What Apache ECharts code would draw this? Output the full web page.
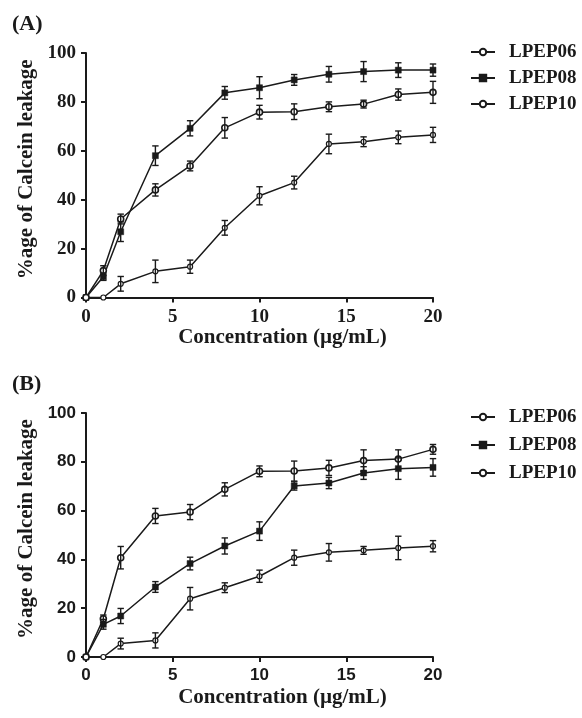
<!DOCTYPE html>
<html>
<head>
<meta charset="utf-8">
<script src="https://cdn.jsdelivr.net/npm/echarts@6/dist/echarts.min.js"></script>
<style>html,body{margin:0;padding:0;background:#fff;}#c{width:582px;height:718px;}</style>
</head>
<body>
<div id="c"></div>
<script>
const conc = [0, 1, 2, 4, 6, 8, 10, 12, 14, 16, 18, 20];
const seriesNames = ['LPEP06', 'LPEP08', 'LPEP10'];
const yTicks = [0, 20, 40, 60, 80, 100];
const xTicks = [0, 5, 10, 15, 20];

// Panel A
const a06 = [0, 0, 5.6, 10.7, 12.6, 28.5, 41.6, 47, 62.8, 63.7, 65.5, 66.5];
const a06e = [0, 0, 3, 4.6, 2.7, 3, 3.7, 2.6, 4, 2, 2.6, 3.1];
const a08 = [0, 8.5, 26.9, 58, 69.2, 83.7, 85.8, 89, 91.3, 92.4, 93, 93];
const a08e = [0, 1.5, 4, 4, 3.1, 2.6, 4.5, 2.2, 3.2, 4.1, 3, 2.5];
const a10 = [0, 11, 32.1, 44, 53.8, 69.4, 75.8, 76, 78, 79.1, 83, 83.9];
const a10e = [0, 2, 2, 2.5, 2, 4.2, 2.8, 3.2, 2, 1.6, 2.3, 4.5];

// Panel B
const b06 = [0, 0, 5.5, 6.8, 23.9, 28.4, 33.1, 40.7, 42.9, 43.7, 44.7, 45.4];
const b06e = [0, 0, 2.2, 3.1, 4.6, 2, 2.5, 3.1, 3.6, 1.6, 4.8, 2.3];
const b08 = [0, 13.4, 16.8, 28.7, 38.3, 45.5, 51.6, 70.1, 71.3, 75.4, 77.2, 77.7];
const b08e = [0, 2, 3.1, 2.2, 2.6, 3.3, 3.8, 1.7, 2.3, 2.6, 4.4, 3.6];
const b10 = [0, 15.7, 40.7, 57.8, 59.4, 68.7, 76.1, 76.2, 77.5, 80.5, 81.1, 85.1];
const b10e = [0, 1.5, 4.6, 3.1, 3.1, 2.7, 2.2, 4.1, 3.1, 4.4, 3.8, 2];

const INK = '#1a1a1a';
const SERIF = '"Liberation Serif", "Times New Roman", serif';
const SANS = '"Liberation Sans", Arial, sans-serif';

const symbolStyles = [
  { symbol: 'circle', symbolSize: 5, itemStyle: { color: '#fff', borderColor: INK, borderWidth: 1.2 } },
  { symbol: 'rect', symbolSize: 6, itemStyle: { color: INK, borderColor: INK, borderWidth: 0.5 } },
  { symbol: 'circle', symbolSize: 6, itemStyle: { color: '#fff', borderColor: INK, borderWidth: 1.6 } }
];

function lineSeries(name, vals, idx, panel) {
  const s = symbolStyles[idx];
  return {
    type: 'line', name: name, xAxisIndex: panel, yAxisIndex: panel,
    data: conc.map((c, i) => [c, vals[i]]),
    symbol: s.symbol, symbolSize: s.symbolSize, showAllSymbol: true,
    itemStyle: s.itemStyle,
    lineStyle: { color: INK, width: 1.5 },
    z: 3
  };
}

function errSeries(name, vals, errs, panel) {
  return {
    type: 'custom', name: name + ' err', xAxisIndex: panel, yAxisIndex: panel,
    data: conc.map((c, i) => [c, vals[i], errs[i]]),
    encode: { x: 0, y: 1 },
    clip: false, z: 4, silent: true,
    renderItem: function (params, api) {
      const x = api.value(0), y = api.value(1), e = api.value(2);
      if (!e) return { type: 'group', children: [] };
      const top = api.coord([x, y + e]);
      const bot = api.coord([x, y - e]);
      const w = 3.2;
      const st = { stroke: INK, lineWidth: 1.4 };
      return {
        type: 'group',
        children: [
          { type: 'line', shape: { x1: top[0], y1: top[1], x2: bot[0], y2: bot[1] }, style: st },
          { type: 'line', shape: { x1: top[0] - w, y1: top[1], x2: top[0] + w, y2: top[1] }, style: st },
          { type: 'line', shape: { x1: bot[0] - w, y1: bot[1], x2: bot[0] + w, y2: bot[1] }, style: st }
        ]
      };
    }
  };
}

function xAxis(panel, labelFont, labelSize) {
  return {
    type: 'value', gridIndex: panel, min: xTicks[0], max: xTicks[xTicks.length - 1], interval: 5,
    name: 'Concentration (µg/mL)', nameLocation: 'middle', nameGap: 30,
    nameTextStyle: { fontFamily: SERIF, fontWeight: 'bold', fontSize: 21, color: INK, padding: [0, 0, 0, 46] },
    axisLine: { show: true, onZero: false, lineStyle: { color: INK, width: 2 } },
    axisTick: { show: true, length: 5, lineStyle: { color: INK, width: 2 } },
    axisLabel: { fontFamily: labelFont, fontWeight: 'bold', fontSize: labelSize, color: INK, margin: 10 },
    splitLine: { show: false }
  };
}

function yAxis(panel, labelFont, labelSize) {
  return {
    type: 'value', gridIndex: panel, min: yTicks[0], max: yTicks[yTicks.length - 1], interval: 20,
    name: '%age of Calcein leakage', nameLocation: 'middle', nameGap: 49,
    nameTextStyle: { fontFamily: SERIF, fontWeight: 'bold', fontSize: 21, color: INK, padding: [0, 0, 0, 12] },
    axisLine: { show: true, onZero: false, lineStyle: { color: INK, width: 2 } },
    axisTick: { show: true, length: 5, lineStyle: { color: INK, width: 2 } },
    axisLabel: { fontFamily: labelFont, fontWeight: 'bold', fontSize: labelSize, color: INK, margin: 10 },
    splitLine: { show: false }
  };
}

function legend(top, gap) {
  return {
    orient: 'vertical', left: 465, top: top, data: seriesNames,
    itemWidth: 24, itemHeight: 8, itemGap: gap,
    textStyle: { fontFamily: SERIF, fontWeight: 'bold', fontSize: 19, color: INK, lineHeight: 20, padding: [0, 0, 0, 9] },
    selectedMode: false
  };
}

const chart = echarts.init(document.getElementById('c'), null, { renderer: 'canvas' });
chart.setOption({
  animation: false,
  backgroundColor: '#fff',
  graphic: [
    { type: 'text', left: 12, top: 13, style: { text: '(A)', font: 'bold 22px ' + SERIF, fill: INK } },
    { type: 'text', left: 12, top: 373, style: { text: '(B)', font: 'bold 22px ' + SERIF, fill: INK } }
  ],
  legend: [legend(37, 6), legend(402, 8)],
  grid: [
    { left: 86, top: 53, width: 347, height: 244.5 },
    { left: 86, top: 413, width: 347, height: 244 }
  ],
  xAxis: [xAxis(0, SERIF, 19), xAxis(1, SANS, 17)],
  yAxis: [yAxis(0, SERIF, 19), yAxis(1, SANS, 17)],
  series: [
    lineSeries('LPEP06', a06, 0, 0),
    lineSeries('LPEP08', a08, 1, 0),
    lineSeries('LPEP10', a10, 2, 0),
    errSeries('LPEP06', a06, a06e, 0),
    errSeries('LPEP08', a08, a08e, 0),
    errSeries('LPEP10', a10, a10e, 0),
    lineSeries('LPEP06', b06, 0, 1),
    lineSeries('LPEP08', b08, 1, 1),
    lineSeries('LPEP10', b10, 2, 1),
    errSeries('LPEP06', b06, b06e, 1),
    errSeries('LPEP08', b08, b08e, 1),
    errSeries('LPEP10', b10, b10e, 1)
  ]
});
</script>
</body>
</html>
